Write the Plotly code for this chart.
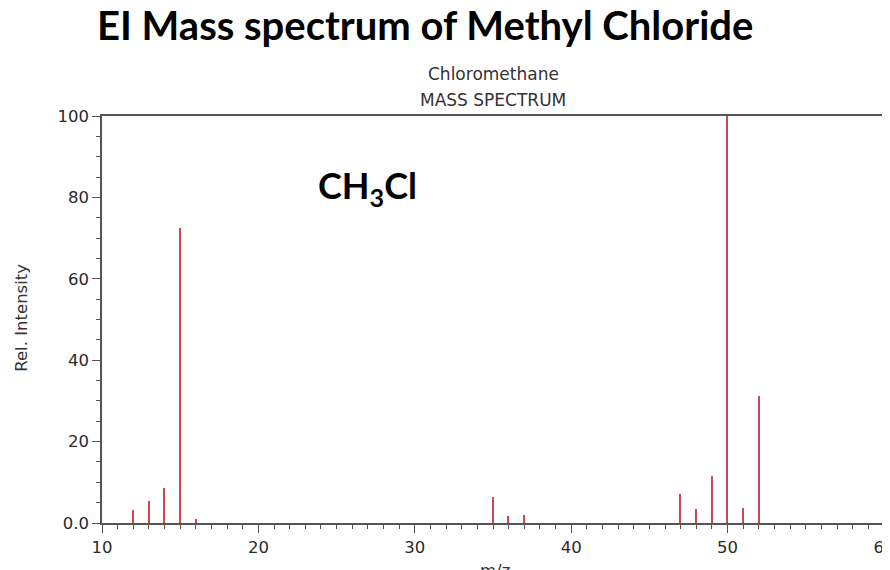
import plotly.graph_objects as go

mz = [12, 13, 14, 15, 16, 35, 36, 37, 47, 48, 49, 50, 51, 52]
intensity = [3.2, 5.4, 8.5, 72.6, 1.0, 6.3, 1.6, 2.0, 7.1, 3.4, 11.6, 100.0, 3.8, 31.3]

x_ticks = [10, 20, 30, 40, 50, 60]
y_ticks = [0, 20, 40, 60, 80, 100]
y_labels = ["0.0", "20", "40", "60", "80", "100"]

# page body margin offset (8px) compensation
OFF = 8
FW, FH = 890 - OFF, 570 - OFF
L, R, T, B = 102, 884, 116, 523.5
W, H = R - L, B - T


def px(x):
    return (x - L) / W


def py(y):
    return (B - y) / H


fig = go.Figure()
fig.add_trace(go.Bar(x=mz, y=intensity, width=0.1,
                     marker=dict(color="#c94a4f", line=dict(width=0))))

axis_font = dict(family="DejaVu Sans", size=16.5, color="#2a2a2a")
fig.update_xaxes(range=[10, 60], tickvals=x_ticks, ticks="outside", ticklen=8,
                 tickcolor="#555", linecolor="#555", linewidth=1.6, mirror=True,
                 showgrid=False, zeroline=False, tickfont=axis_font, automargin=False,
                 ticklabeloverflow="allow",
                 minor=dict(dtick=1, ticklen=4, ticks="outside", tickcolor="#555"))
fig.update_yaxes(range=[0, 100], tickvals=y_ticks, ticktext=y_labels, ticks="outside",
                 ticklen=8, tickcolor="#555", linecolor="#555", linewidth=1.6, mirror=True,
                 showgrid=False, zeroline=False, tickfont=axis_font, automargin=False,
                 ticklabeloverflow="allow",
                 minor=dict(dtick=5, ticklen=4, ticks="outside", tickcolor="#555"))

fig.update_layout(
    width=FW, height=FH,
    margin=dict(l=L - OFF, r=890 - R, t=T - OFF, b=570 - B),
    plot_bgcolor="white", paper_bgcolor="white",
    showlegend=False,
    bargap=0,
    annotations=[
        dict(text="<b>EI Mass spectrum of Methyl Chloride</b>", xref="paper", yref="paper",
             x=px(95), y=py(25), xanchor="left", yanchor="middle",
             showarrow=False, font=dict(family="Lato", size=40, color="#000")),
        dict(text="Chloromethane", xref="paper", yref="paper",
             x=px(493), y=py(74), xanchor="center", yanchor="middle",
             showarrow=False, font=dict(family="DejaVu Sans", size=17, color="#333")),
        dict(text="MASS SPECTRUM", xref="paper", yref="paper",
             x=px(493), y=py(100), xanchor="center", yanchor="middle",
             showarrow=False, font=dict(family="DejaVu Sans", size=17, color="#333")),
        dict(text="<b>CH<sub>3</sub>Cl</b>", xref="paper", yref="paper",
             x=px(316), y=py(188), xanchor="left", yanchor="middle",
             showarrow=False, font=dict(family="Lato", size=36, color="#000")),
        dict(text="Rel. Intensity", xref="paper", yref="paper", textangle=-90,
             x=px(22), y=py(318), xanchor="center", yanchor="middle",
             showarrow=False, font=dict(family="DejaVu Sans", size=16.5, color="#333")),
        dict(text="m/z", xref="paper", yref="paper",
             x=px(495), y=py(571), xanchor="center", yanchor="middle",
             showarrow=False, font=dict(family="DejaVu Sans", size=16.5, color="#333")),
    ],
)

fig.write_html("out.html")
